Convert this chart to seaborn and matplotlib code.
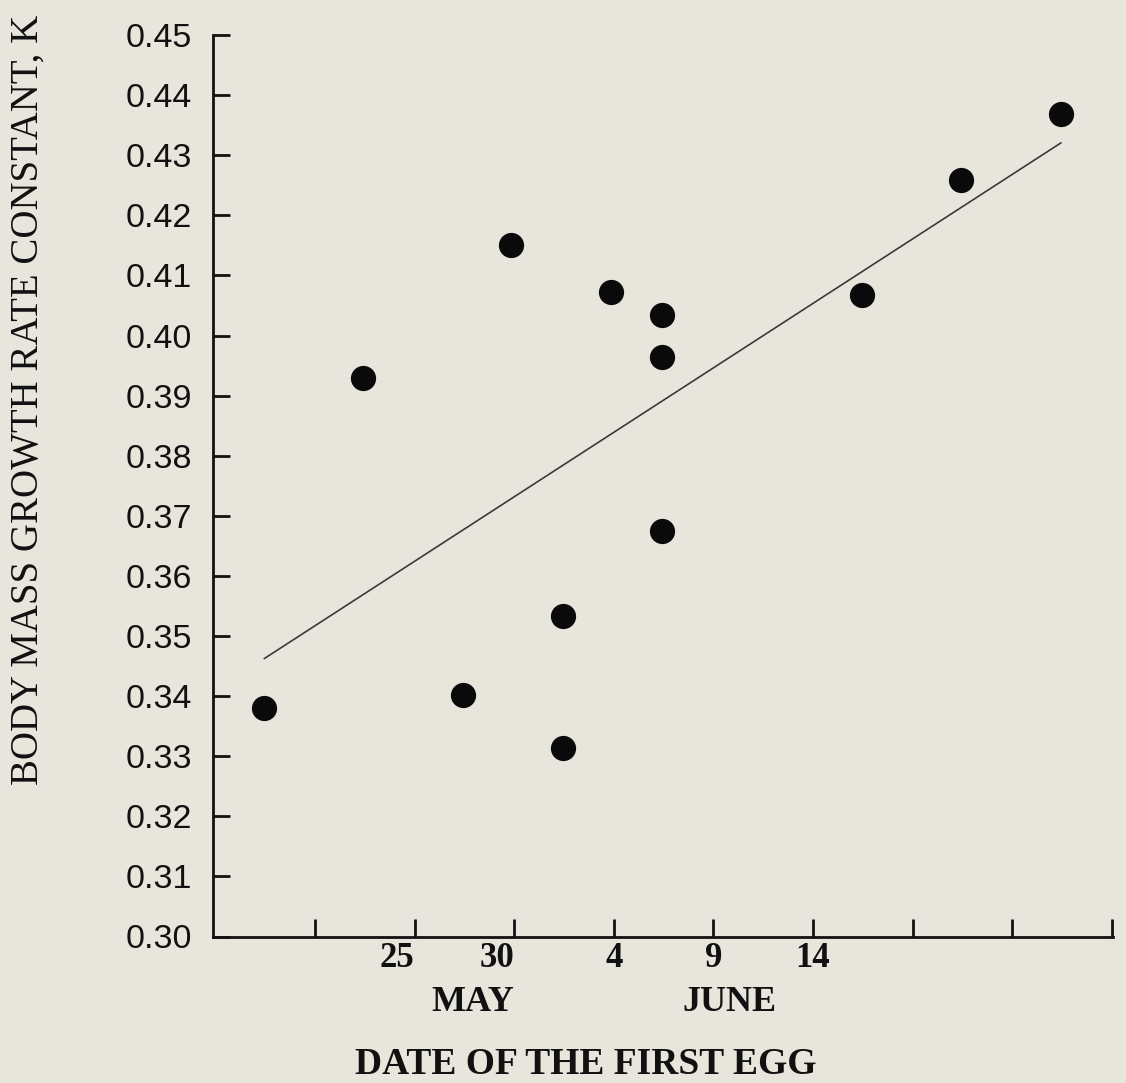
import numpy as np
import pandas as pd
import matplotlib
matplotlib.use("Agg")
import matplotlib.pyplot as plt
import seaborn as sns

# Date of the first egg as a day count from 1 May (1 June = day 32)
laying_day = [17.45, 22.40, 27.42, 29.84, 32.43, 32.43, 34.87,
              37.41, 37.41, 37.41, 47.44, 52.44, 57.45]
# Body mass growth rate constant K of each brood
growth_k = [0.3380, 0.3930, 0.3402, 0.4151, 0.3533, 0.3314, 0.4073,
            0.4034, 0.3964, 0.3675, 0.4067, 0.4258, 0.4369]

tick_days = [20, 25, 30, 35, 40, 45, 50, 55, 60]
tick_labels = ["", "25", "30", "4", "9", "14", "", "", ""]
month_names = ["MAY", "JUNE"]
month_days = [27.9, 40.8]
k_ticks = np.round(np.arange(0.30, 0.4501, 0.01), 2)

df = pd.DataFrame({"day": laying_day, "k": growth_k})

bg = "#e8e6dc"
ink = "#111111"
serif = "Liberation Serif"
sans = "Liberation Sans"

sns.set_style("ticks")
plt.rcParams["font.family"] = [sans, "DejaVu Sans"]

W, H = 1126, 1083
fig = plt.figure(figsize=(W / 100, H / 100), dpi=100, facecolor=bg)
left, right, top, bottom = 213, 1113, 35, 936.5
ax = fig.add_axes([left / W, 1 - bottom / H, (right - left) / W, (bottom - top) / H])
ax.set_facecolor(bg)

sns.regplot(data=df, x="day", y="k", ci=None, ax=ax,
            scatter_kws=dict(s=330, color="#0a0a0a", alpha=1, linewidths=0, zorder=3),
            line_kws=dict(color="#3a3a3a", lw=1.2, zorder=2))

ax.set_xlim(14.88, 60.06)
ax.set_ylim(0.30, 0.45)

for side in ("top", "right"):
    ax.spines[side].set_visible(False)
for side in ("left", "bottom"):
    ax.spines[side].set_linewidth(2.0)
    ax.spines[side].set_color(ink)

ax.set_yticks(k_ticks)
ax.set_yticklabels([f"{v:.2f}" for v in k_ticks], fontfamily=sans, fontsize=24.5, color=ink)
ax.set_xticks(tick_days)
ax.set_xticklabels(tick_labels, fontfamily=serif, fontweight="bold", fontsize=25, color=ink)
for lab in ax.get_xticklabels()[1:3]:
    lab.set_horizontalalignment("right")
ax.tick_params(axis="y", direction="in", length=12, width=2, pad=15, colors=ink)
ax.tick_params(axis="x", direction="in", length=13, width=2, pad=4, colors=ink)
ax.set_xlabel("")
ax.set_ylabel("")

for name, d in zip(month_names, month_days):
    ax.text(d, -0.0735, name, transform=ax.get_xaxis_transform(), ha="center", va="center",
            fontfamily=serif, fontweight="bold", fontsize=26, color=ink)

fig.text(585.5 / W, 1 - 1065 / H, "DATE OF THE FIRST EGG", ha="center", va="center",
         fontfamily=serif, fontweight="bold", fontsize=27, color=ink)
fig.text(28 / W, 1 - 400 / H, "BODY MASS GROWTH RATE CONSTANT, K", ha="center", va="center",
         rotation=90, fontfamily=serif, fontsize=28, color=ink)

fig.savefig("out.png", dpi=100, facecolor=bg)
